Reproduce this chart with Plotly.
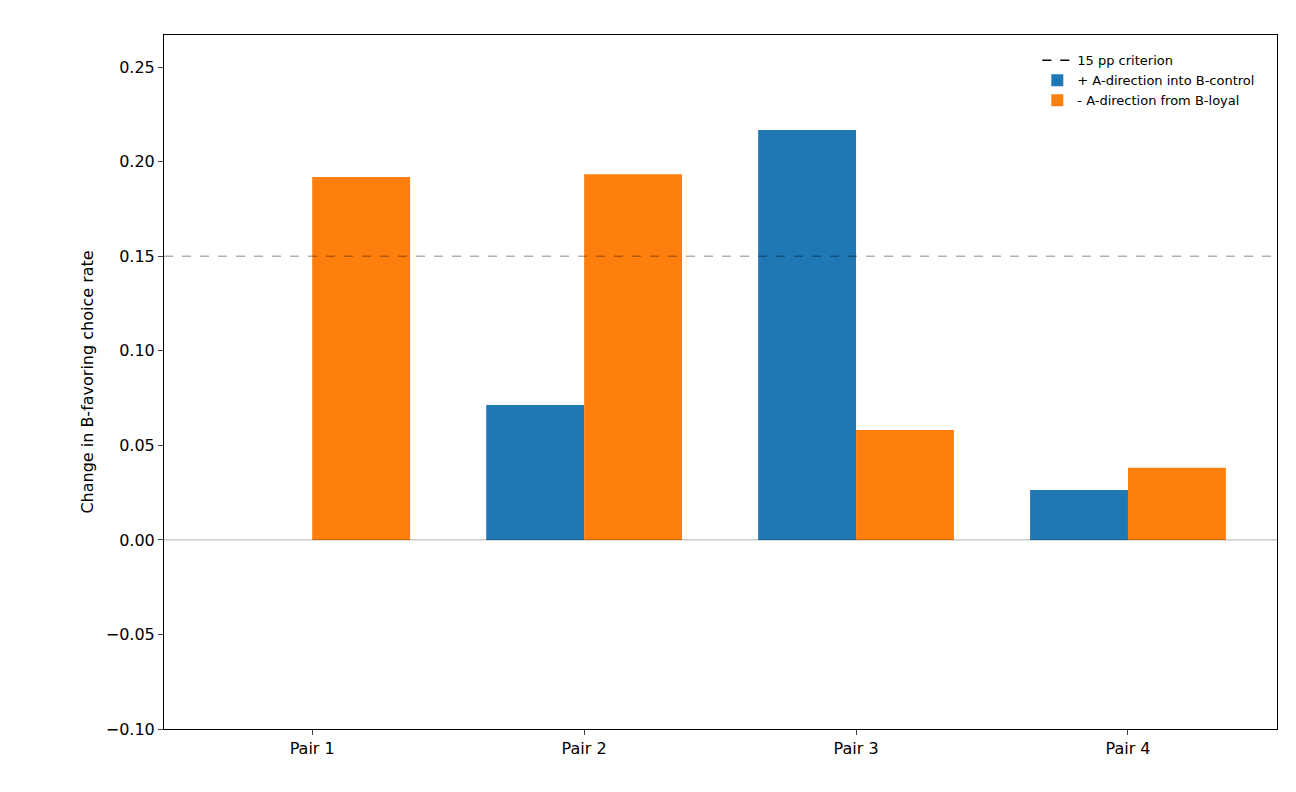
import plotly.graph_objects as go

pairs = ["Pair 1", "Pair 2", "Pair 3", "Pair 4"]
plus_into_control = [0.0, 0.0714, 0.2167, 0.0264]
minus_from_loyal = [0.1919, 0.1934, 0.0581, 0.0381]
criterion = 0.15
yticks = [-0.10, -0.05, 0.00, 0.05, 0.10, 0.15, 0.20, 0.25]
ytick_text = ["\u22120.10", "\u22120.05", "0.00", "0.05", "0.10", "0.15", "0.20", "0.25"]

xs = list(range(len(pairs)))
fig = go.Figure()
fig.add_trace(go.Scatter(x=[None], y=[None], mode="lines", name="15 pp criterion",
                         line=dict(color="black", dash="dash", width=1.5)))
fig.add_trace(go.Bar(x=xs, y=plus_into_control, name="+ A-direction into B-control",
                     marker=dict(color="#1f77b4", line=dict(width=0))))
fig.add_trace(go.Bar(x=xs, y=minus_from_loyal, name="- A-direction from B-loyal",
                     marker=dict(color="#ff7f0e", line=dict(width=0))))
fig.add_hline(y=criterion, layer="above", line=dict(color="black", dash="dash", width=1.5))
fig.add_hline(y=0, layer="above", line=dict(color="black", width=1))

fig.update_layout(
    width=1296, height=792, template="simple_white",
    barmode="group", bargap=0.28, bargroupgap=0,
    margin=dict(l=156, r=27, t=27, b=71),
    font=dict(family="DejaVu Sans", size=16, color="black"),
    legend=dict(x=0.985, y=0.985, xanchor="right", yanchor="top", font=dict(size=13),
                bgcolor="rgba(0,0,0,0)", traceorder="normal"),
    plot_bgcolor="white", paper_bgcolor="white",
)
fig.update_xaxes(range=[-0.545, 3.548], tickvals=xs, ticktext=pairs, showline=True, mirror=True,
                 linecolor="black", ticks="outside", ticklen=5)
fig.update_yaxes(range=[-0.1, 0.267], tickvals=yticks, ticktext=ytick_text, showline=True, mirror=True,
                 linecolor="black", ticks="outside", ticklen=5, zeroline=False,
                 title=dict(text="Change in B-favoring choice rate", font=dict(size=16), standoff=8))
fig.write_html("out.html")
